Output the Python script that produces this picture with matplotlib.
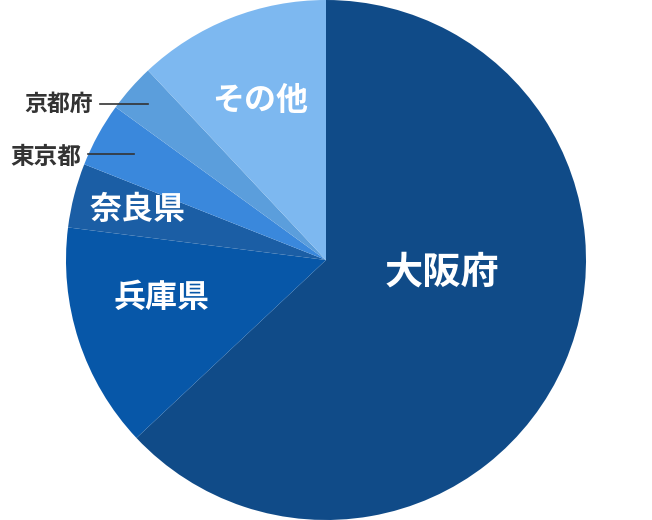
import matplotlib
matplotlib.use("Agg")
import matplotlib.pyplot as plt

plt.rcParams['font.family'] = ['Noto Sans CJK JP', 'DejaVu Sans']

labels = ['大阪府', '兵庫県', '奈良県', '東京都', '京都府', 'その他']
values = [63, 14, 4, 4, 3, 12]
colors = ['#104b88', '#0757a8', '#1b5ea5', '#3a88dc', '#5b9edc', '#7db8f0']

W, H = 652, 520
fig = plt.figure(figsize=(W / 100, H / 100), dpi=100)
ax = fig.add_axes([0, 0, 1, 1])

cx, cy, r = 326, 260, 260
ax.pie(values, colors=colors, startangle=90, counterclock=False,
       center=(cx, cy), radius=r, wedgeprops=dict(linewidth=0),
       frame=True)
ax.set_xlim(0, W)
ax.set_ylim(0, H)
ax.set_aspect('equal')
ax.axis('off')

def py(y):
    return H - y

# inner labels
ax.text(442, py(272), labels[0], color='white', fontsize=27.5, fontweight='bold',
        ha='center', va='center')
ax.text(162, py(298), labels[1], color='white', fontsize=23, fontweight='bold',
        ha='center', va='center')
ax.text(138, py(210), labels[2], color='white', fontsize=23, fontweight='bold',
        ha='center', va='center')
ax.text(260, py(101), labels[5], color='white', fontsize=23, fontweight='bold',
        ha='center', va='center')

# outer labels with leader lines
ax.text(93, py(104), labels[4], color='#333333', fontsize=16.5, fontweight='bold',
        ha='right', va='center')
ax.plot([100, 148], [py(104), py(104)], color='#333333', lw=1.2)
ax.text(81, py(157), labels[3], color='#333333', fontsize=17, fontweight='bold',
        ha='right', va='center')
ax.plot([88, 134], [py(154), py(154)], color='#333333', lw=1.2)

fig.savefig('out.png', dpi=100)
